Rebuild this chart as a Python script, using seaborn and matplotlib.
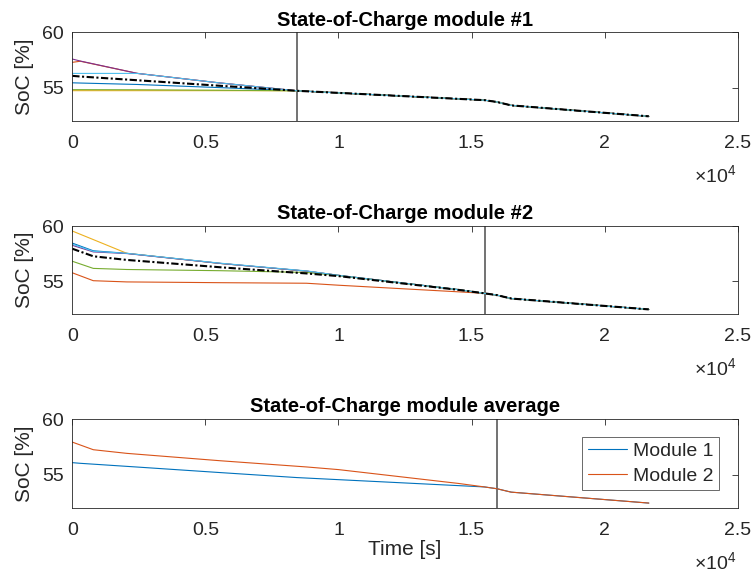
import matplotlib
matplotlib.use("Agg")
import matplotlib.pyplot as plt
import pandas as pd
import seaborn as sns

# ---------------------------------------------------------------- data
# Module 1: cell state of charge [%] over time [s]
time_m1 = [0, 300, 2450, 5500, 8430, 10000, 14500, 15490, 15950, 16490, 21660]
m1_cell1 = [55.45, 55.43, 55.30, 55.02, 54.73, 54.54, 54.00, 53.88, 53.72, 53.41, 52.42]
m1_cell2 = [57.30, 57.40, 56.30, 55.45, 54.73, 54.54, 54.00, 53.88, 53.72, 53.41, 52.42]
m1_cell3 = [54.74, 54.74, 54.74, 54.74, 54.73, 54.54, 54.00, 53.88, 53.72, 53.41, 52.42]
m1_cell4 = [57.60, 57.42, 56.30, 55.45, 54.73, 54.54, 54.00, 53.88, 53.72, 53.41, 52.42]
m1_cell5 = [54.83, 54.83, 54.82, 54.78, 54.73, 54.54, 54.00, 53.88, 53.72, 53.41, 52.42]
m1_cell6 = [56.30, 56.30, 56.30, 55.45, 54.73, 54.54, 54.00, 53.88, 53.72, 53.41, 52.42]
m1_mean = [56.08, 56.02, 55.68, 55.19, 54.73, 54.54, 54.00, 53.88, 53.72, 53.41, 52.42]

# Module 2: cell state of charge [%] over time [s]
time_m2 = [0, 790, 2050, 5570, 8800, 10000, 14500, 15490, 15950, 16490, 21660]
m2_cell1 = [58.45, 57.75, 57.52, 56.60, 55.90, 55.52, 54.22, 53.88, 53.72, 53.41, 52.42]
m2_cell2 = [55.75, 55.03, 54.92, 54.85, 54.80, 54.62, 54.02, 53.88, 53.72, 53.41, 52.42]
m2_cell3 = [59.55, 58.77, 57.52, 56.60, 55.90, 55.52, 54.22, 53.88, 53.72, 53.41, 52.42]
m2_cell4 = [58.25, 57.65, 57.50, 56.60, 55.90, 55.52, 54.22, 53.88, 53.72, 53.41, 52.42]
m2_cell5 = [56.80, 56.15, 56.05, 55.94, 55.78, 55.50, 54.22, 53.88, 53.72, 53.41, 52.42]
m2_cell6 = [58.35, 57.70, 57.52, 56.62, 55.92, 55.52, 54.22, 53.88, 53.72, 53.41, 52.42]
m2_mean = [57.94, 57.25, 56.92, 56.25, 55.69, 55.45, 54.20, 53.88, 53.72, 53.41, 52.42]

# balancing end markers [s]
balance_end = [8430, 15490, 15950]

titles = ["State-of-Charge module #1", "State-of-Charge module #2",
          "State-of-Charge module average"]
module_labels = ["Module 1", "Module 2"]
cell_labels = ["Cell 1", "Cell 2", "Cell 3", "Cell 4", "Cell 5", "Cell 6"]
xtick_values = [0, 5000, 10000, 15000, 20000, 25000]
xtick_labels = ["0", "0.5", "1", "1.5", "2", "2.5"]
ytick_values = [55, 60]
ytick_labels = ["55", "60"]

# ---------------------------------------------------------------- style
sns.set_style("white")
plt.rcParams["font.family"] = ["Liberation Sans", "DejaVu Sans"]
plt.rcParams["mathtext.fontset"] = "custom"
plt.rcParams["mathtext.rm"] = "Liberation Sans"
plt.rcParams["mathtext.it"] = "Liberation Sans"

matlab_colors = ["#0072BD", "#D95319", "#EDB120", "#7E2F8E", "#77AC30", "#4DBEEE"]
frame_color = "#262626"
tick_fs = 14
label_fs = 15


def cells_frame(t, series):
    rows = []
    for name, vals in zip(cell_labels, series):
        for ti, v in zip(t, vals):
            rows.append({"t": ti, "soc": v, "cell": name})
    return pd.DataFrame(rows)


def style_axes(ax, title, vline):
    ax.set_xlim(0, 25000)
    ax.set_ylim(52, 60)
    ax.set_xticks(xtick_values)
    ax.set_xticklabels(xtick_labels)
    ax.set_yticks(ytick_values)
    ax.set_yticklabels(ytick_labels)
    ax.tick_params(axis="both", direction="in", length=4.5, width=0.6,
                   color=frame_color, labelsize=tick_fs, labelcolor=frame_color,
                   top=True, right=True)
    ax.tick_params(axis="x", pad=10)
    ax.tick_params(axis="y", pad=6)
    for s in ax.spines.values():
        s.set_color(frame_color)
        s.set_linewidth(0.6)
    ax.axvline(vline, color="#5a5a5a", lw=1.2, zorder=1)
    ax.set_title(title, fontsize=14.5, fontweight="bold", color="black", pad=5)
    ax.set_ylabel("SoC [%]", fontsize=label_fs, color=frame_color, labelpad=6)
    ax.set_xlabel("")
    ax.annotate(r"$\times10^{4}$", xy=(1, 0), xycoords="axes fraction",
                xytext=(-1, -44), textcoords="offset points",
                ha="right", va="baseline", fontsize=tick_fs, color=frame_color)


fig = plt.figure(figsize=(7.56, 5.78), dpi=100)
ax1 = fig.add_axes([0.0956, 0.7907, 0.8802, 0.1531])
ax2 = fig.add_axes([0.0956, 0.4567, 0.8802, 0.1522])
ax3 = fig.add_axes([0.0956, 0.1216, 0.8802, 0.1529])

palette = dict(zip(cell_labels, matlab_colors))
mean_dashes = (3.5, 1.2, 1, 1.2)

# module 1 cells with the module mean
df1 = cells_frame(time_m1, [m1_cell1, m1_cell2, m1_cell3, m1_cell4, m1_cell5, m1_cell6])
sns.lineplot(data=df1, x="t", y="soc", hue="cell", hue_order=cell_labels,
             palette=palette, estimator=None, sort=False, lw=0.8,
             legend=False, ax=ax1)
sns.lineplot(x=time_m1, y=m1_mean, color="black", lw=1.5,
             ax=ax1, estimator=None, sort=False).lines[-1].set_dashes(mean_dashes)

# module 2 cells with the module mean
df2 = cells_frame(time_m2, [m2_cell1, m2_cell2, m2_cell3, m2_cell4, m2_cell5, m2_cell6])
sns.lineplot(data=df2, x="t", y="soc", hue="cell", hue_order=cell_labels,
             palette=palette, estimator=None, sort=False, lw=0.8,
             legend=False, ax=ax2)
sns.lineplot(x=time_m2, y=m2_mean, color="black", lw=1.5,
             ax=ax2, estimator=None, sort=False).lines[-1].set_dashes(mean_dashes)

# module averages
df3 = pd.concat([
    pd.DataFrame({"t": time_m1, "soc": m1_mean, "module": module_labels[0]}),
    pd.DataFrame({"t": time_m2, "soc": m2_mean, "module": module_labels[1]}),
])
sns.lineplot(data=df3, x="t", y="soc", hue="module", hue_order=module_labels,
             palette=dict(zip(module_labels, matlab_colors[:2])),
             estimator=None, sort=False, lw=0.8, ax=ax3)

for ax, title, vline in zip([ax1, ax2, ax3], titles, balance_end):
    style_axes(ax, title, vline)

handles, labels = ax3.get_legend_handles_labels()
leg = ax3.legend(handles, labels, loc="upper right",
                 bbox_to_anchor=(0.9724, 0.803), borderaxespad=0,
                 fontsize=tick_fs, frameon=True, fancybox=False,
                 handlelength=2.0, handletextpad=0.3, borderpad=0.3,
                 labelspacing=0.35)
leg.get_frame().set_edgecolor(frame_color)
leg.get_frame().set_linewidth(0.6)
for txt in leg.get_texts():
    txt.set_color(frame_color)

ax3.set_xlabel("Time [s]", fontsize=label_fs, color=frame_color, labelpad=1)

fig.savefig("out.png", dpi=100, facecolor="white")
